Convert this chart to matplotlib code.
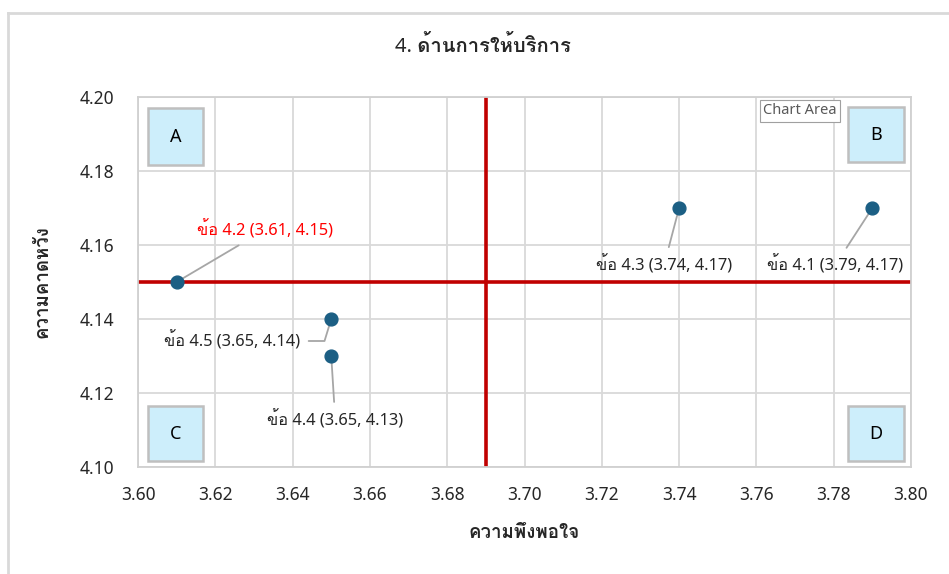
import matplotlib
matplotlib.use('Agg')
import matplotlib.pyplot as plt
from matplotlib import font_manager
from matplotlib.ft2font import FT2Font
from matplotlib.lines import Line2D
from matplotlib.patches import Rectangle


def thai_family():
    # first installed font that has Thai glyphs
    for f in font_manager.fontManager.ttflist:
        try:
            if 0x0E01 in FT2Font(f.fname).get_charmap():
                return f.name
        except Exception:
            pass
    return None


thai = thai_family()
fams = ['Noto Sans']
if thai:
    fams.append(thai)
fams.append('DejaVu Sans')
plt.rcParams['font.family'] = fams

# data
items = ['ข้อ 4.1', 'ข้อ 4.2', 'ข้อ 4.3', 'ข้อ 4.4', 'ข้อ 4.5']
satisfaction = [3.79, 3.61, 3.74, 3.65, 3.65]
expectation = [4.17, 4.15, 4.17, 4.13, 4.14]
x_mean = 3.69
y_mean = 4.15
x_ticks = [3.60, 3.62, 3.64, 3.66, 3.68, 3.70, 3.72, 3.74, 3.76, 3.78, 3.80]
y_ticks = [4.10, 4.12, 4.14, 4.16, 4.18, 4.20]
quadrants = ['A', 'B', 'C', 'D']

title = '4. ด้านการให้บริการ'
x_label = 'ความพึงพอใจ'
y_label = 'ความคาดหวัง'

fig = plt.figure(figsize=(9.49, 5.74), dpi=100)
W, H = 949, 574
ax = fig.add_axes([138 / W, (H - 467) / H, 773 / W, 370 / H])

ax.set_xlim(x_ticks[0], x_ticks[-1])
ax.set_ylim(y_ticks[0], y_ticks[-1])
ax.set_xticks(x_ticks)
ax.set_yticks(y_ticks)
ax.set_xticklabels([f'{v:.2f}' for v in x_ticks])
ax.set_yticklabels([f'{v:.2f}' for v in y_ticks])
ax.tick_params(length=0, labelsize=12.5, colors='#262626')
ax.tick_params(axis='x', pad=14)
ax.tick_params(axis='y', pad=17)
ax.grid(True, color='#d9d9d9', lw=1.3)
ax.set_axisbelow(True)
for s in ax.spines.values():
    s.set_color('#d0d0d0')
    s.set_linewidth(1.3)

ax.axvline(x_mean, color='#c00000', lw=2.6, zorder=2)
ax.axhline(y_mean, color='#c00000', lw=2.6, zorder=2)

ax.scatter(satisfaction, expectation, s=85, color='#1c5f84', zorder=5)

# label offsets in pixels (dx, dy) and leader style
offsets = {
    'ข้อ 4.1': (-37, -57, None),
    'ข้อ 4.2': (88, 52, None),
    'ข้อ 4.3': (-15, -57, None),
    'ข้อ 4.4': (4, -64, None),
    'ข้อ 4.5': (-99, -22, 'angle,angleA=0,angleB=73,rad=0'),
}
for name, xv, yv in zip(items, satisfaction, expectation):
    dx, dy, cs = offsets[name]
    red = name == 'ข้อ 4.2'
    ap = dict(arrowstyle='-', color='#a6a6a6', lw=1.3, shrinkA=4, shrinkB=0)
    if cs:
        ap['connectionstyle'] = cs
    ax.annotate(f'{name} ({xv:.2f}, {yv:.2f})', (xv, yv), xytext=(dx, dy),
                textcoords='offset pixels', ha='center', va='center',
                fontsize=11.8, color='#ff0000' if red else '#262626',
                arrowprops=ap, zorder=4)

# quadrant boxes (axes fraction: left, bottom, width, height)
box_pos = [(0.013, 0.816, 0.071, 0.154), (0.9185, 0.824, 0.0725, 0.149),
           (0.013, 0.016, 0.071, 0.149), (0.9185, 0.016, 0.0725, 0.149)]
for q, (bx, by, bw, bh) in zip(quadrants, box_pos):
    ax.add_patch(Rectangle((bx, by), bw, bh, transform=ax.transAxes,
                           fc='#cdeefb', ec='#bfbfbf', lw=1.8, zorder=6))
    ax.text(bx + bw / 2, by + bh / 2, q, transform=ax.transAxes, ha='center',
            va='center', fontsize=13, color='black', zorder=7)

fig.text(483 / W, 1 - 47 / H, title, ha='center', va='center',
         fontsize=14.5, fontweight='bold', color='#262626')
ax.set_xlabel(x_label, fontsize=13.5, fontweight='bold', color='#262626', labelpad=14)
ax.set_ylabel(y_label, fontsize=13.5, fontweight='bold', color='#262626', labelpad=20)

# chart area border and tooltip
fig.add_artist(Line2D([8 / W, 1], [1 - 13 / H, 1 - 13 / H], color='#d9d9d9', lw=2))
fig.add_artist(Line2D([8 / W, 8 / W], [0, 1 - 13 / H], color='#d9d9d9', lw=2))
fig.text(800 / W, 1 - 111 / H, 'Chart Area', ha='center', va='center',
         fontsize=10.5, color='#595959',
         bbox=dict(boxstyle='square,pad=0.25', fc='white', ec='#a0a0a0', lw=0.8))

fig.savefig('out.png', dpi=100)
